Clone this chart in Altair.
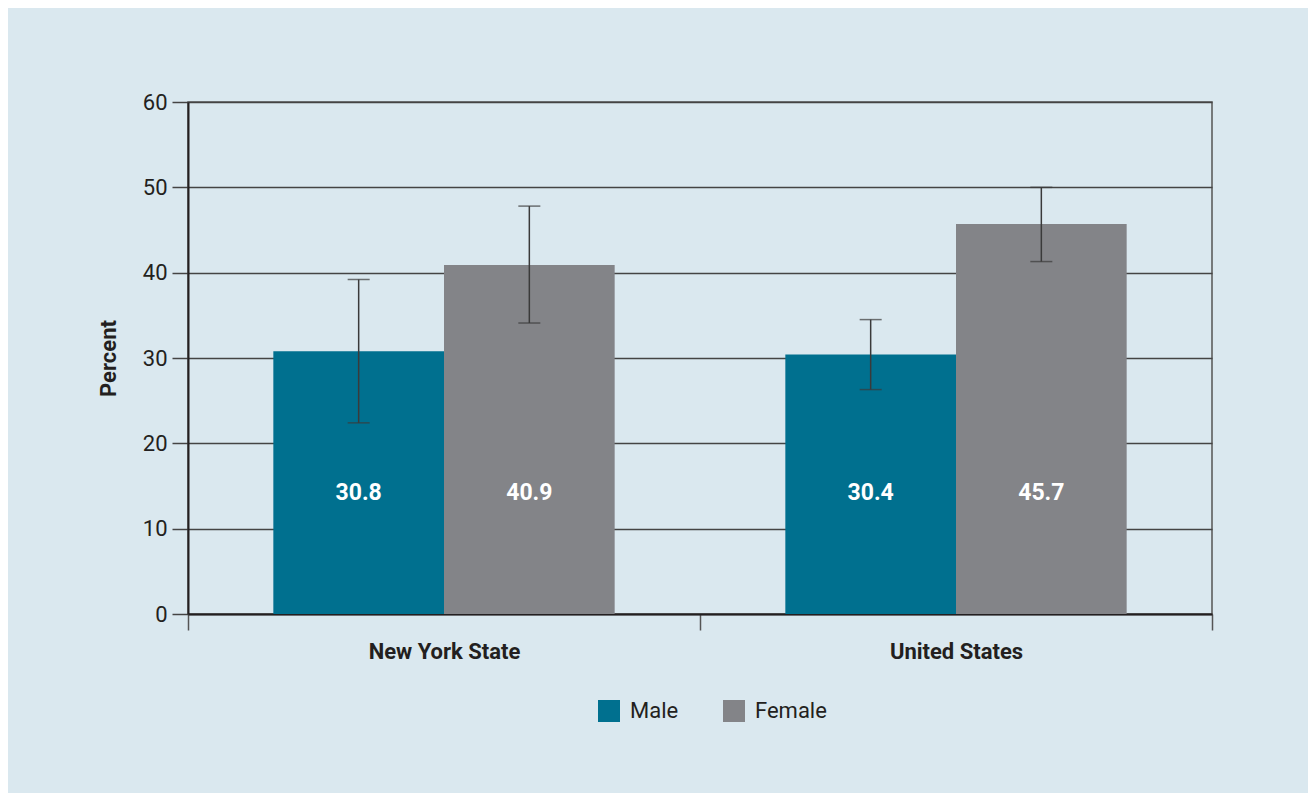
import altair as alt
import pandas as pd

regions = ["New York State", "New York State", "United States", "United States"]
sexes = ["Male", "Female", "Male", "Female"]
values = [30.8, 40.9, 30.4, 45.7]
lower = [22.4, 34.1, 26.3, 41.3]
upper = [39.2, 47.8, 34.5, 50.0]

df = pd.DataFrame({"region": regions, "sex": sexes, "value": values,
                   "lo": lower, "hi": upper,
                   "label": [f"{v:.1f}" for v in values]})

FONT = "Roboto"
BG = "#dae8ef"
TXT = "#231f20"
colors = ["#00708f", "#838488"]
order = ["Male", "Female"]
region_order = ["New York State", "United States"]

x = alt.X("region:N", title=None, sort=region_order,
          scale=alt.Scale(paddingInner=0, paddingOuter=0),
          axis=alt.Axis(labelFont=FONT, labelFontSize=22, labelFontWeight="bold",
                        labelColor=TXT, labelAngle=0, labelPadding=11, labelLimit=0,
                        tickBand="extent", tickSize=16, tickColor="#555555",
                        tickWidth=1.5, domainColor=TXT, domainWidth=2,
                        grid=False))
xo = alt.XOffset("sex:N", sort=order, scale=alt.Scale(paddingOuter=0.5, paddingInner=0))
y = alt.Y("value:Q", title="Percent",
          scale=alt.Scale(domain=[0, 60], nice=False),
          axis=alt.Axis(values=[0, 10, 20, 30, 40, 50, 60], labelFont=FONT,
                        labelFontSize=22, labelColor=TXT, labelPadding=5,
                        tickSize=16, tickColor="#444444", tickWidth=1.5,
                        domainColor=TXT, domainWidth=2,
                        gridColor="#444444", gridWidth=1.5,
                        titleFont=FONT, titleFontSize=22, titleFontWeight="bold",
                        titleColor=TXT, titlePadding=22))

bars = alt.Chart(df).mark_bar().encode(
    x=x, xOffset=xo, y=y,
    color=alt.Color("sex:N", sort=order, scale=alt.Scale(domain=order, range=colors),
                    legend=alt.Legend(title=None, orient="none", direction="horizontal",
                                      legendX=410, legendY=598,
                                      symbolType="square", symbolSize=484,
                                      symbolStrokeWidth=0, labelFont=FONT,
                                      labelFontSize=22, labelColor=TXT,
                                      columnPadding=44, labelOffset=10)),
)

err = alt.Chart(df).mark_errorbar(ticks=alt.MarkConfig(size=22, color="#3a3a3a", strokeWidth=1.5),
                                  color="#3a3a3a", thickness=1.5).encode(
    x=alt.X("region:N", sort=region_order), xOffset=xo,
    y=alt.Y("lo:Q", title="Percent"), y2="hi:Q",
)

text = alt.Chart(df).mark_text(font=FONT, fontSize=23, fontWeight="bold",
                               color="white", baseline="middle").encode(
    x=alt.X("region:N", sort=region_order), xOffset=xo,
    y=alt.datum(14.2), text="label:N",
)

chart = alt.layer(bars, err, text).properties(
    width=1024, height=512, background=BG,
    autosize=alt.AutoSizeParams(type="none"),
    padding={"left": 180, "top": 94, "right": 96, "bottom": 179},
).configure_view(stroke="#555555", strokeWidth=1.5)

chart.save("out.html", embed_options={"renderer": "svg", "actions": False})
